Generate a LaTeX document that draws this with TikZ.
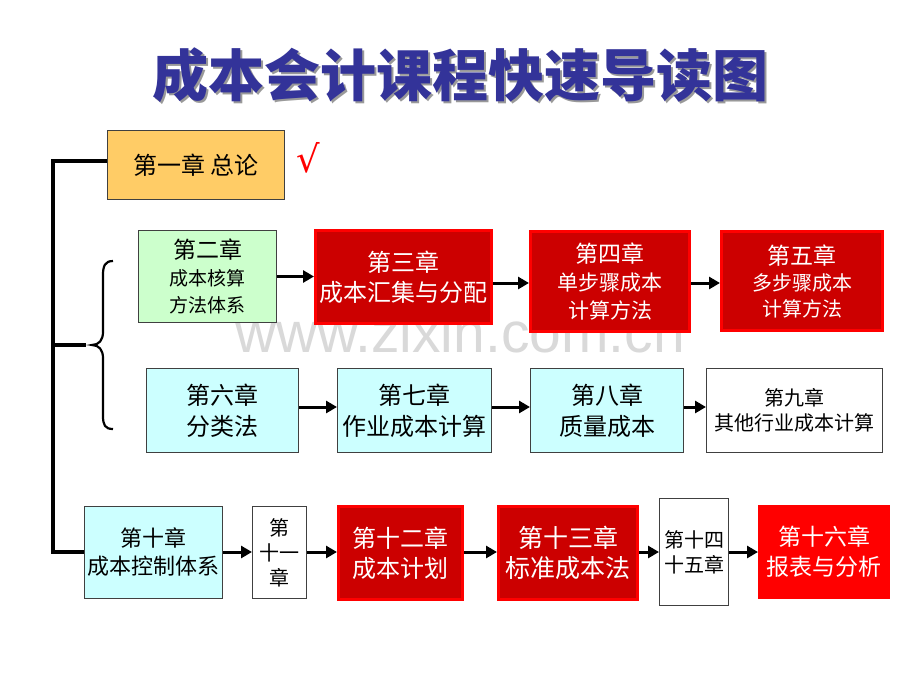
\documentclass[tikz,border=0pt]{standalone}
\usepackage{fontspec}
\setmainfont{Noto Sans CJK SC}
\newfontfamily\wmfont{Liberation Sans}
\newfontfamily\chkfont{DejaVu Sans}
\usetikzlibrary{arrows.meta}
\definecolor{titleblue}{HTML}{333399}
\definecolor{boxorange}{HTML}{FFCC66}
\definecolor{boxgreen}{HTML}{CCFFCC}
\definecolor{boxcyan}{HTML}{CCFFFF}
\definecolor{darkred}{HTML}{CC0000}
\definecolor{brightred}{HTML}{FF0000}
\definecolor{edgegray}{HTML}{404040}
\newcommand{\fs}[2]{\fontsize{#1}{#2}\selectfont}
\begin{document}
\begin{tikzpicture}[x=1pt,y=-1pt,
  box/.style={draw=edgegray, line width=1pt, inner sep=0pt, align=center, anchor=north west, text=black},
  redbox/.style={box, draw=brightred, line width=3pt, fill=darkred, text=white},
  arr/.style={line width=3pt, -{Triangle[length=11pt,width=12pt]}},
  conn/.style={line width=3.2pt},
]
\useasboundingbox[fill=white] (0,0) rectangle (920,690);

% watermark
\node[anchor=base, text=black!15, font=\wmfont\fs{57}{60}] (wm) at (460,352) {www.zixin.com.cn};

% title
\node[text=black!40, font=\fs{56}{60}\bfseries] (titleshadow) at (462.5,77.5) {成本会计课程快速导读图};
\node[text=titleblue, font=\fs{56}{60}\bfseries] (title) at (460,75) {成本会计课程快速导读图};

% row 1
\node[box, fill=boxorange, minimum width=177pt, minimum height=69pt, font=\fs{24}{26}] (ch1) at (107,130) {第一章 总论};
\node[text=brightred, font=\chkfont\fs{37}{40}] (chk) at (308,158) {√};

% row 2
\node[box, fill=boxgreen, minimum width=138pt, minimum height=92pt, font=\fs{19}{27}] (ch2) at (138,230)
  {\fs{23}{27}第二章\\\fs{19}{27}成本核算\\\fs{19}{27}方法体系};
\node[redbox, minimum width=176pt, minimum height=93pt, font=\fs{24}{30}] (ch3) at (314,229)
  {\fs{24}{30}第三章\\\fs{24}{30}成本汇集与分配};
\node[redbox, minimum width=159pt, minimum height=100pt, font=\fs{20}{28}] (ch4) at (529,230)
  {\fs{23}{28}第四章\\\fs{21}{28}单步骤成本\\\fs{21}{28}计算方法};
\node[redbox, minimum width=161pt, minimum height=99pt, font=\fs{19}{26}] (ch5) at (720,230)
  {\fs{23}{26}第五章\\\fs{20}{26}多步骤成本\\\fs{20}{26}计算方法};

% row 3
\node[box, fill=boxcyan, minimum width=152pt, minimum height=84pt, font=\fs{24}{31}] (ch6) at (146,368)
  {\fs{24}{31}第六章\\\fs{24}{31}分类法};
\node[box, fill=boxcyan, minimum width=154pt, minimum height=84pt, font=\fs{24}{31}] (ch7) at (337,368)
  {\fs{24}{31}第七章\\\fs{24}{31}作业成本计算};
\node[box, fill=boxcyan, minimum width=153pt, minimum height=84pt, font=\fs{24}{31}] (ch8) at (530,368)
  {\fs{24}{31}第八章\\\fs{24}{31}质量成本};
\node[box, fill=white, minimum width=176pt, minimum height=84pt, font=\fs{20}{25}] (ch9) at (706,368)
  {\fs{20}{25}第九章\\\fs{20}{25}其他行业成本计算};

% row 4
\node[box, fill=boxcyan, minimum width=138pt, minimum height=92pt, font=\fs{22}{28}] (ch10) at (84,506)
  {\fs{22}{28}第十章\\\fs{22}{28}成本控制体系};
\node[box, fill=white, minimum width=54pt, minimum height=92pt, font=\fs{20}{25}] (ch11) at (252,506)
  {\fs{20}{25}第\\\fs{20}{25}十一\\\fs{20}{25}章};
\node[redbox, minimum width=124pt, minimum height=93pt, font=\fs{24}{30}] (ch12) at (337,505)
  {\fs{24}{30}第十二章\\\fs{24}{30}成本计划};
\node[redbox, minimum width=139pt, minimum height=93pt, font=\fs{25}{30}] (ch13) at (497,505)
  {\fs{25}{30}第十三章\\\fs{25}{30}标准成本法};
\node[box, fill=white, minimum width=69pt, minimum height=107pt, font=\fs{20}{25}] (ch14) at (659,498)
  {\fs{20}{25}第十四\\\fs{20}{25}十五章};
\node[box, draw=brightred, fill=brightred, text=white, minimum width=131pt, minimum height=93pt, font=\fs{23}{30}] (ch16) at (758,505)
  {\fs{23}{30}第十六章\\\fs{23}{30}报表与分析};

% helper coordinates
\coordinate (r2) at (0,283);
\coordinate (r3) at (0,407);
\coordinate (r4) at (0,552);
\coordinate (spb) at (53,552);
\coordinate (spm) at (53,345);
\coordinate (brm) at (86,345);

% arrows
\draw[arr] (ch2.east) -- (ch2.east -| ch3.west);
\draw[arr] (ch3.east |- r2) -- (ch4.west |- r2);
\draw[arr] (ch4.east |- r2) -- (ch5.west |- r2);
\draw[arr] (ch6.east |- r3) -- (ch7.west |- r3);
\draw[arr] (ch7.east |- r3) -- (ch8.west |- r3);
\draw[arr] (ch8.east |- r3) -- (ch9.west |- r3);
\draw[arr] (ch10.east |- r4) -- (ch11.west |- r4);
\draw[arr] (ch11.east |- r4) -- (ch12.west |- r4);
\draw[arr] (ch12.east |- r4) -- (ch13.west |- r4);
\draw[arr] (ch13.east |- r4) -- (ch14.west |- r4);
\draw[arr] (ch14.east |- r4) -- (ch16.west |- r4);

% left spine
\draw[conn] (ch1.west |- 0,161) -- (53,161) -- (spb) -- (ch10.west |- spb);
\draw[conn] (spm) -- (brm);

% brace
\draw[line width=2.2pt] (113,261) .. controls (105,261) and (103,266) .. (103,275) -- (103,332)
  .. controls (103,340) and (99,345) .. (92,345)
  .. controls (99,345) and (103,350) .. (103,358) -- (103,416)
  .. controls (103,425) and (105,429) .. (113,429);
\end{tikzpicture}
\end{document}
